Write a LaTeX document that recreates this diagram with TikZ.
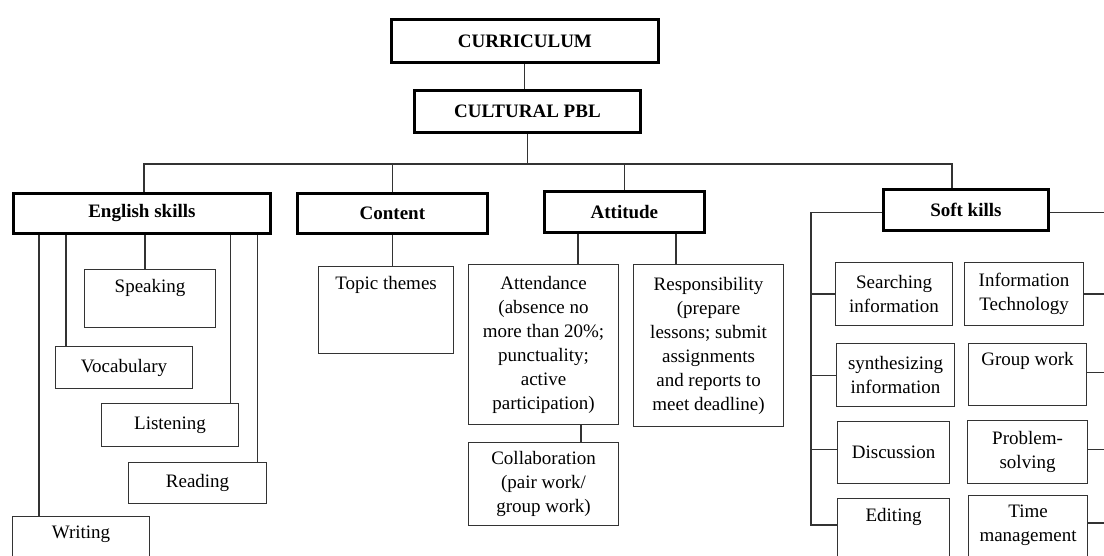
\documentclass[tikz,border=0pt]{standalone}
\usepackage{fontspec}
\setmainfont{Liberation Serif}
\begin{document}
\begin{tikzpicture}[x=1pt,y=-1pt,
  font=\fontsize{19}{24}\selectfont,
  headbox/.style={draw=black, line width=2.8pt, inner sep=0pt, anchor=north west,
    font=\fontsize{19}{24}\selectfont\bfseries},
  itembox/.style={draw=black!80, line width=1.1pt, inner sep=0pt, anchor=north west, align=center},
  toptext/.style={inner sep=0pt, anchor=center, align=center},
  conn/.style={draw=black!80, line width=1.1pt}]
\path[use as bounding box] (0,0) rectangle (1104,556);
\clip (0,0) rectangle (1104,556);

% heading boxes
\node[headbox, minimum width=267pt, minimum height=43pt] (cur) at (390,18) {CURRICULUM};
\node[headbox, minimum width=226pt, minimum height=42pt] (pbl) at (413,89) {CULTURAL PBL};
\node[headbox, minimum width=257pt, minimum height=40pt] (eng) at (12,192) {English skills};
\node[headbox, minimum width=190pt, minimum height=40pt] (con) at (296,192) {Content};
\node[headbox, minimum width=160pt, minimum height=41pt] (att) at (543,190) {Attitude};
\node[headbox, minimum width=165pt, minimum height=41pt] (soft) at (882,188) {Soft kills};

% English skills
\node[itembox, minimum width=131pt, minimum height=58pt] (spk) at (84,269) {};
\node[toptext] (spkT) at ([yshift=-19pt]spk.north) {Speaking};
\node[itembox, minimum width=137pt, minimum height=42pt] (voc) at (55,346) {Vocabulary};
\node[itembox, minimum width=137pt, minimum height=43pt] (lis) at (101,403) {Listening};
\node[itembox, minimum width=138pt, minimum height=41pt] (rea) at (128,462) {Reading};
\node[itembox, minimum width=137pt, minimum height=60pt] (wri) at (12,516) {};
\node[toptext] (wriT) at ([yshift=-18pt]wri.north) {Writing};

% Content
\node[itembox, minimum width=135pt, minimum height=87pt] (top) at (318,266) {};
\node[toptext] (topT) at ([yshift=-19pt]top.north) {Topic themes};

% Attitude
\node[itembox, minimum width=150pt, minimum height=160pt] (atd) at (468,264)
  {Attendance\\(absence no\\more than 20\%;\\punctuality;\\active\\participation)};
\node[itembox, minimum width=150pt, minimum height=162pt] (res) at (633,264)
  {Responsibility\\(prepare\\lessons; submit\\assignments\\and reports to\\meet deadline)};
\node[itembox, minimum width=150pt, minimum height=83pt] (col) at (468,442)
  {Collaboration\\(pair work/\\group work)};

% Soft kills
\node[itembox, minimum width=117pt, minimum height=63pt] (sea) at (835,262) {Searching\\information};
\node[itembox, minimum width=119pt, minimum height=63pt] (inf) at (964,262) {Information\\Technology};
\node[itembox, minimum width=118pt, minimum height=63pt] (syn) at (836,343) {synthesizing\\information};
\node[itembox, minimum width=118pt, minimum height=62pt] (grp) at (968,343) {};
\node[toptext] (grpT) at ([yshift=-18pt]grp.north) {Group work};
\node[itembox, minimum width=112pt, minimum height=62pt] (dis) at (837,421) {Discussion};
\node[itembox, minimum width=120pt, minimum height=63pt] (pro) at (967,420) {Problem-\\solving};
\node[itembox, minimum width=112pt, minimum height=70pt] (edi) at (837,498) {};
\node[toptext] (ediT) at ([yshift=-19pt]edi.north) {Editing};
\node[itembox, minimum width=119pt, minimum height=70pt] (tim) at (968,495) {};
\node[toptext] (timT) at ([yshift=-30pt]tim.north) {Time\\management};

% connectors
\coordinate (busL) at (144,164);
\coordinate (busR) at (952,164);
\draw[conn] (cur.south) -- (cur.south |- pbl.north);
\draw[conn] (pbl.south) -- (pbl.south |- busL);
\draw[conn] (busL |- eng.north) -- (busL) -- (busR) -- (busR |- soft.north);
\draw[conn] (con.north) -- (con.north |- busL);
\draw[conn] (att.north) -- (att.north |- busL);

\draw[conn] ([xshift=27pt]wri.north west) -- ([xshift=27pt]wri.north west |- eng.south);
\draw[conn] ([xshift=11pt]voc.north west) -- ([xshift=11pt]voc.north west |- eng.south);
\draw[conn] ([xshift=61pt]spk.north west) -- ([xshift=61pt]spk.north west |- eng.south);
\draw[conn] ([xshift=-9pt]lis.north east) -- ([xshift=-9pt]lis.north east |- eng.south);
\draw[conn] ([xshift=-10pt]rea.north east) -- ([xshift=-10pt]rea.north east |- eng.south);

\draw[conn] (con.south) -- (con.south |- top.north);
\draw[conn] ([xshift=110pt]atd.north west) -- ([xshift=110pt]atd.north west |- att.south);
\draw[conn] ([xshift=43pt]res.north west) -- ([xshift=43pt]res.north west |- att.south);
\draw[conn] ([xshift=113pt]col.north west) -- ([xshift=113pt]col.north west |- atd.south);

\coordinate (sl) at (811,525);
\draw[conn] ([yshift=-2.5pt]soft.west) -| (sl) -- ([yshift=-27pt]edi.north west);
\draw[conn] (sea.west) -- (sea.west -| sl);
\draw[conn] (syn.west) -- (syn.west -| sl);
\draw[conn] ([yshift=3pt]dis.west) -- ([yshift=3pt]dis.west -| sl);

\coordinate (sr) at (1114,523);
\draw[conn] ([yshift=-3pt]soft.east) -| (sr) -- ([yshift=-28pt]tim.north east);
\draw[conn] (inf.east) -- (inf.east -| sr);
\draw[conn] ([yshift=2pt]grp.east) -- ([yshift=2pt]grp.east -| sr);
\draw[conn] ([yshift=3pt]pro.east) -- ([yshift=3pt]pro.east -| sr);
\end{tikzpicture}
\end{document}
